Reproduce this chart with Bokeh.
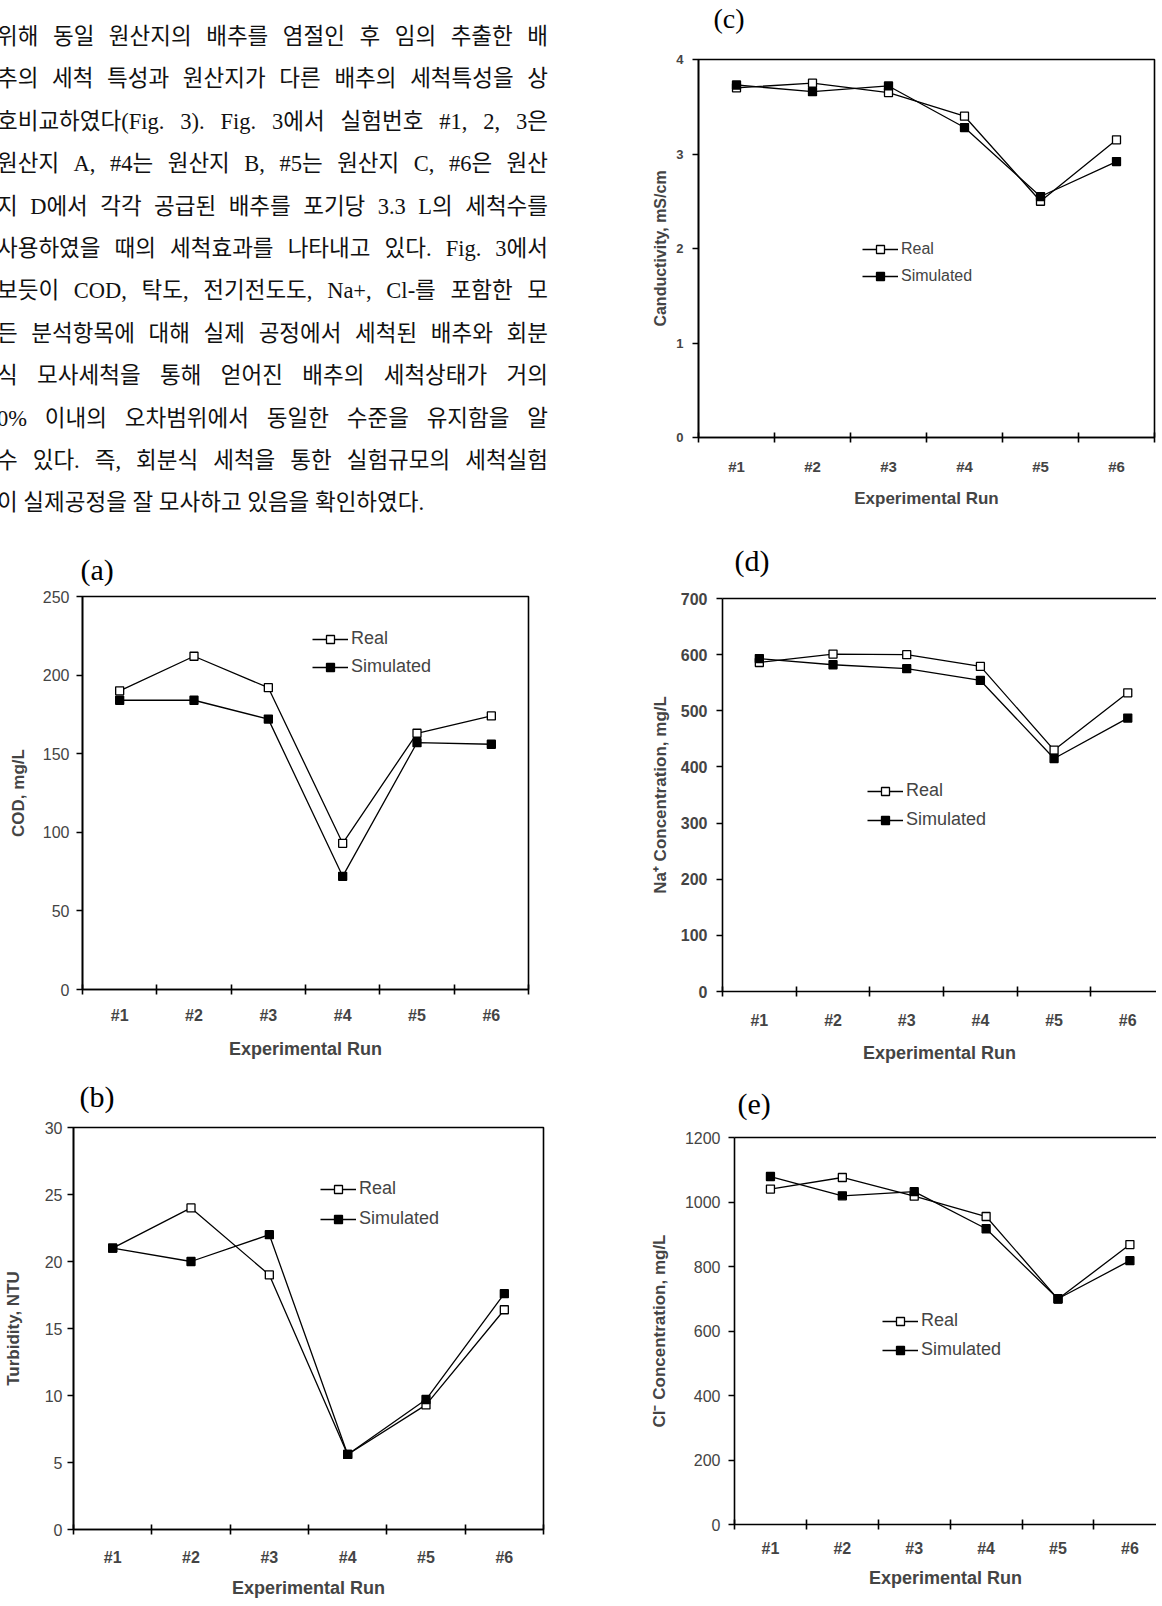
from bokeh.plotting import figure
from bokeh.models import Range1d, FixedTicker, LinearAxis, Legend, LegendItem, Div
from bokeh.layouts import row, column
from bokeh.embed import file_html
from bokeh.resources import INLINE

# ---------------- data ----------------
runs = ["#1", "#2", "#3", "#4", "#5", "#6"]

cod_real = [190, 212, 192, 93, 163, 174]
cod_sim = [184, 184, 172, 72, 157, 156]
cod_ticks = [0, 50, 100, 150, 200, 250]

turb_real = [21, 24, 19, 5.6, 9.3, 16.4]
turb_sim = [21, 20, 22, 5.6, 9.7, 17.6]
turb_ticks = [0, 5, 10, 15, 20, 25, 30]

cond_real = [3.70, 3.75, 3.65, 3.40, 2.50, 3.15]
cond_sim = [3.73, 3.66, 3.72, 3.28, 2.55, 2.92]
cond_ticks = [0, 1, 2, 3, 4]

na_real = [586, 601, 600, 579, 430, 532]
na_sim = [593, 582, 575, 554, 415, 487]
na_ticks = [0, 100, 200, 300, 400, 500, 600, 700]

cl_real = [1040, 1076, 1018, 955, 699, 868]
cl_sim = [1079, 1019, 1032, 917, 700, 818]
cl_ticks = [0, 200, 400, 600, 800, 1000, 1200]

text_lines = [
    "위해 동일 원산지의 배추를 염절인 후 임의 추출한 배",
    "추의 세척 특성과 원산지가 다른 배추의 세척특성을 상",
    "호비교하였다(Fig. 3). Fig. 3에서 실험번호 #1, 2, 3은",
    "원산지 A, #4는 원산지 B, #5는 원산지 C, #6은 원산",
    "지 D에서 각각 공급된 배추를 포기당 3.3 L의 세척수를",
    "사용하였을 때의 세척효과를 나타내고 있다. Fig. 3에서",
    "보듯이 COD, 탁도, 전기전도도, Na+, Cl-를 포함한 모",
    "든 분석항목에 대해 실제 공정에서 세척된 배추와 회분",
    "식 모사세척을 통해 얻어진 배추의 세척상태가 거의",
    "0% 이내의 오차범위에서 동일한 수준을 유지함을 알",
    "수 있다. 즉, 회분식 세척을 통한 실험규모의 세척실험",
    "이 실제공정을 잘 모사하고 있음을 확인하였다.",
]

FONT = "Liberation Sans"
SERIF = "Liberation Serif"


def chart(tag, real, sim, yticks, ylabel, W, H, borders, xspan, tag_off, tag_sd,
          legend_xy, st, open_right=False, spacer=0):
    bl, br, bt, bb = borders
    xs = list(range(1, len(runs) + 1))
    p = figure(width=W, height=H, x_range=Range1d(0.5, 0.5 + xspan),
               y_range=Range1d(yticks[0], yticks[-1]),
               output_backend="svg", toolbar_location=None,
               min_border_left=bl, min_border_right=br,
               min_border_top=bt, min_border_bottom=bb,
               background_fill_color="white", border_fill_color="white")
    p.grid.visible = False
    p.outline_line_color = None if open_right else "black"
    p.outline_line_width = 1.6

    p.title.text = tag
    p.title.align = "left"
    p.title.offset = tag_off
    p.title.standoff = tag_sd
    p.title.text_font = SERIF
    p.title.text_font_size = st.get("tg", "30px")
    p.title.text_font_style = "normal"
    p.title.text_color = "black"

    xa = p.xaxis[0]
    xa.ticker = FixedTicker(ticks=xs, minor_ticks=[x - 0.5 for x in xs] + [xs[-1] + 0.5])
    xa.major_label_overrides = {x: r for x, r in zip(xs, runs)}
    xa.major_tick_in = 0
    xa.major_tick_out = 0
    xa.minor_tick_in = 5
    xa.minor_tick_out = 5
    xa.minor_tick_line_width = 1.6
    xa.axis_line_width = 1.6
    xa.major_label_text_font = FONT
    xa.major_label_text_font_style = "bold"
    xa.major_label_text_font_size = st["xl"]
    xa.major_label_standoff = st["xls"]
    xa.axis_label = "Experimental Run"
    xa.axis_label_text_font = FONT
    xa.axis_label_text_font_style = "bold"
    xa.axis_label_text_font_size = st["xt"]
    xa.axis_label_standoff = st["xts"]

    ya = p.yaxis[0]
    ya.ticker = FixedTicker(ticks=yticks, minor_ticks=[])
    ya.major_tick_in = 0
    ya.major_tick_out = 6
    ya.major_tick_line_width = 1.6
    ya.axis_line_width = 1.6
    ya.major_label_text_font = FONT
    ya.major_label_text_font_style = st["ylw"]
    ya.major_label_text_font_size = st["yl"]
    ya.major_label_standoff = st["yls"]
    ya.axis_label = ylabel
    ya.axis_label_text_font = FONT
    ya.axis_label_text_font_style = "bold"
    ya.axis_label_text_font_size = st["yt"]
    ya.axis_label_standoff = st["yts"]

    if open_right:
        top = LinearAxis(ticker=FixedTicker(ticks=[]), axis_line_width=1.6,
                         major_tick_in=0, major_tick_out=0,
                         minor_tick_in=0, minor_tick_out=0,
                         major_label_standoff=0,
                         major_label_text_font_size="0px")
        p.add_layout(top, "above")
    if spacer:
        # invisible top axis used only to hold the panel tag above the frame
        gap = LinearAxis(ticker=FixedTicker(ticks=[xs[0]], minor_ticks=[]),
                         axis_line_color=None, major_tick_in=0,
                         major_tick_out=spacer, major_tick_line_color=None,
                         minor_tick_in=0, minor_tick_out=0,
                         major_label_overrides={xs[0]: ""},
                         major_label_standoff=0,
                         major_label_text_font_size="0px")
        p.add_layout(gap, "above")

    r1 = p.line(xs, real, line_color="black", line_width=1.3)
    r2 = p.scatter(xs, real, marker="square", size=8, fill_color="white",
                   line_color="black", line_width=1.3)
    s1 = p.line(xs, sim, line_color="black", line_width=1.3)
    s2 = p.scatter(xs, sim, marker="square", size=8, fill_color="black",
                   line_color="black", line_width=1.3)
    leg = Legend(items=[LegendItem(label="Real", renderers=[r1, r2]),
                        LegendItem(label="Simulated", renderers=[s1, s2])],
                 location=legend_xy, glyph_width=36, glyph_height=20,
                 label_height=20, label_standoff=3, spacing=st["lsp"],
                 padding=0, margin=0, border_line_color=None,
                 background_fill_alpha=0,
                 label_text_font=FONT, label_text_font_size=st["lg"])
    p.add_layout(leg)
    return p


big = dict(xl="16px", xls=12, xt="18px", xts=12, yl="16px", yls=7, ylw="normal",
           yt="17px", yts=12, lg="18px", lsp=7)

fa = chart("(a)", cod_real, cod_sim, cod_ticks, "COD, mg/L", 612, 524,
           (82, 84, 0, 74), 6, -2, 22, (230, 312), big)

st_b = dict(big, xls=14, xts=9, yls=5, yts=19, lsp=9)
fb = chart("(b)", turb_real, turb_sim, turb_ticks, "Turbidity, NTU", 612, 537,
           (72, 69, 0, 63), 6, 6, 29, (247, 300), st_b)

st_c = dict(xl="15px", xls=15, xt="17px", xts=11, yl="13px", yls=9, ylw="bold",
            yt="16px", yts=4, lg="16px", lsp=7, tg="28px")
fc = chart("(c)", cond_real, cond_sim, cond_ticks, "Canductivity, mS/cm", 534, 519,
           (76, 2, 0, 82), 6, 15, 0, (164, 151), st_c, spacer=26)

st_d = dict(big, xls=15, xts=11, yls=9, ylw="bold", yts=8, lsp=8)
fd = chart("(d)", na_real, na_sim, na_ticks, "Na\u207a Concentration, mg/L", 534, 548,
           (100, 0, 0, 76), 5.89, 12, 44, (145, 161), st_d, open_right=True)

st_e = dict(big, xls=10, xts=8, yls=8, yts=13, lsp=8)
fe = chart("(e)", cl_real, cl_sim, cl_ticks, "Cl\u207b Concentration, mg/L", 534, 523,
           (112, 0, 0, 57), 5.87, 3, 35, (148, 164), st_e, open_right=True)

rows_html = []
for i, ln in enumerate(text_lines):
    last = "left" if i == len(text_lines) - 1 else "justify"
    rows_html.append(
        f'<div style="width:551px;height:42.4px;line-height:42.4px;overflow:hidden;'
        f'white-space:nowrap;text-align:justify;text-align-last:{last};">{ln}</div>')
html = ('<div style="margin-left:-8px;padding-top:11px;color:#111;font-size:22.5px;'
        "font-family:'Liberation Serif','Noto Sans CJK KR',serif;\">"
        + "".join(rows_html) + "</div>")
div = Div(text=html, width=612, height=529)

page = row(column(div, row(fa), row(fb)), column(row(fc), row(fd), row(fe)))
open("out.html", "w").write(file_html(page, INLINE))
